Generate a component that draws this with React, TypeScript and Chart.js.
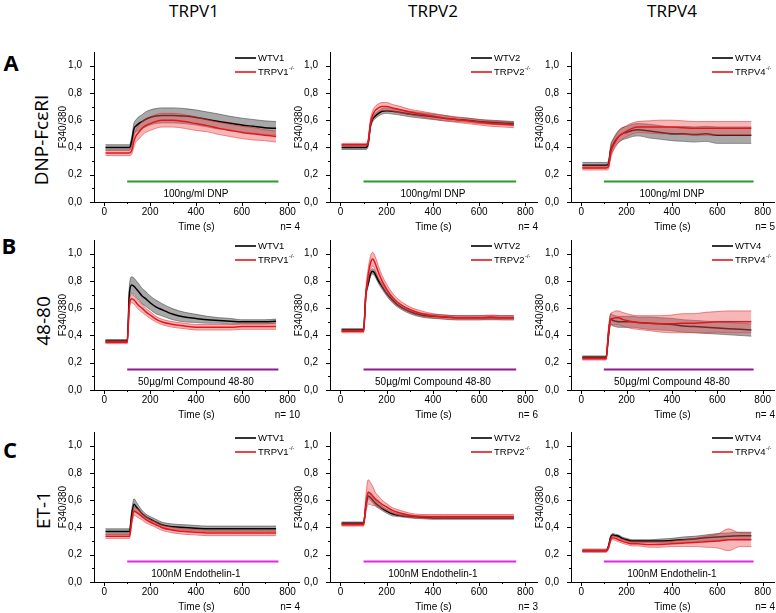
import React, { useEffect, useRef } from 'react';
import { Chart, registerables } from 'chart.js';

Chart.register(...registerables);

// ---------------- data ----------------
const TIME = [5, 50, 100, 110, 120, 130, 140, 150, 165, 180, 200, 225, 250, 300, 350, 400, 450, 500, 550, 600, 650, 700, 750];

// DNP-FcεRI
const dnpV1Wt = [0.40,0.40,0.40,0.40,0.45,0.54,0.56,0.575,0.59,0.605,0.62,0.63,0.635,0.635,0.63,0.62,0.605,0.59,0.578,0.565,0.555,0.545,0.54];
const dnpV1WtErr = [0.02,0.02,0.02,0.02,0.03,0.04,0.045,0.05,0.05,0.055,0.055,0.055,0.055,0.055,0.055,0.055,0.055,0.055,0.05,0.05,0.05,0.05,0.05];
const dnpV1Ko = [0.36,0.36,0.36,0.36,0.38,0.45,0.49,0.51,0.54,0.56,0.575,0.59,0.60,0.60,0.59,0.575,0.56,0.54,0.525,0.51,0.50,0.49,0.48];
const dnpV1KoErr = [0.02,0.02,0.02,0.02,0.03,0.04,0.045,0.05,0.05,0.05,0.05,0.05,0.05,0.05,0.05,0.05,0.045,0.045,0.045,0.045,0.045,0.04,0.04];

const dnpV2Wt = [0.40,0.40,0.40,0.40,0.43,0.56,0.61,0.63,0.65,0.665,0.67,0.665,0.66,0.645,0.635,0.625,0.615,0.605,0.60,0.59,0.585,0.58,0.575];
const dnpV2WtErr = [0.015,0.015,0.015,0.015,0.02,0.02,0.02,0.02,0.02,0.02,0.02,0.02,0.02,0.02,0.02,0.02,0.02,0.015,0.015,0.015,0.015,0.015,0.015];
const dnpV2Ko = [0.42,0.42,0.42,0.42,0.44,0.58,0.64,0.67,0.69,0.70,0.70,0.69,0.68,0.66,0.645,0.63,0.615,0.605,0.595,0.585,0.575,0.57,0.565];
const dnpV2KoErr = [0.01,0.01,0.01,0.01,0.02,0.03,0.03,0.03,0.03,0.03,0.03,0.025,0.025,0.02,0.02,0.02,0.02,0.02,0.02,0.02,0.02,0.02,0.02];

const dnpV4Wt = [0.27,0.27,0.27,0.27,0.28,0.38,0.42,0.45,0.48,0.50,0.51,0.525,0.53,0.52,0.51,0.50,0.50,0.495,0.50,0.49,0.49,0.49,0.49];
const dnpV4WtErr = [0.02,0.02,0.02,0.02,0.02,0.04,0.04,0.04,0.045,0.045,0.045,0.045,0.045,0.05,0.05,0.05,0.055,0.055,0.055,0.06,0.06,0.06,0.06];
const dnpV4Ko = [0.25,0.25,0.25,0.25,0.26,0.36,0.41,0.44,0.48,0.50,0.52,0.54,0.55,0.55,0.55,0.55,0.545,0.54,0.54,0.54,0.54,0.54,0.54];
const dnpV4KoErr = [0.015,0.015,0.015,0.015,0.02,0.04,0.04,0.04,0.04,0.04,0.04,0.04,0.04,0.045,0.05,0.05,0.05,0.05,0.05,0.05,0.05,0.05,0.05];

// Compound 48-80
const c48V1Wt = [0.36,0.36,0.36,0.72,0.77,0.76,0.74,0.72,0.69,0.67,0.64,0.61,0.59,0.555,0.535,0.525,0.515,0.51,0.505,0.50,0.50,0.50,0.505];
const c48V1WtErr = [0.01,0.01,0.01,0.05,0.06,0.06,0.06,0.06,0.055,0.055,0.05,0.05,0.045,0.04,0.035,0.03,0.025,0.02,0.02,0.015,0.015,0.015,0.015];
const c48V1Ko = [0.35,0.35,0.35,0.63,0.67,0.66,0.64,0.62,0.60,0.575,0.55,0.52,0.50,0.48,0.47,0.46,0.46,0.46,0.46,0.465,0.465,0.465,0.465];
const c48V1KoErr = [0.01,0.01,0.01,0.03,0.03,0.03,0.03,0.03,0.03,0.025,0.025,0.02,0.02,0.02,0.02,0.02,0.02,0.02,0.02,0.02,0.02,0.02,0.02];

const c48V2Wt = [0.44,0.44,0.44,0.70,0.78,0.85,0.87,0.85,0.80,0.76,0.71,0.66,0.62,0.575,0.55,0.54,0.535,0.53,0.53,0.53,0.53,0.53,0.53];
const c48V2WtErr = [0.01,0.01,0.01,0.02,0.02,0.02,0.02,0.02,0.02,0.02,0.02,0.02,0.015,0.015,0.015,0.015,0.015,0.015,0.015,0.015,0.015,0.015,0.015];
const c48V2Ko = [0.43,0.43,0.43,0.70,0.84,0.93,0.96,0.93,0.86,0.80,0.74,0.68,0.64,0.59,0.56,0.545,0.535,0.53,0.53,0.53,0.535,0.53,0.53];
const c48V2KoErr = [0.01,0.01,0.01,0.04,0.05,0.05,0.05,0.05,0.045,0.04,0.035,0.03,0.025,0.02,0.02,0.015,0.015,0.015,0.015,0.015,0.015,0.015,0.015];

const c48V4Wt = [0.24,0.24,0.24,0.24,0.40,0.52,0.51,0.505,0.50,0.50,0.50,0.50,0.495,0.49,0.485,0.48,0.47,0.465,0.46,0.455,0.45,0.445,0.44];
const c48V4WtErr = [0.01,0.01,0.01,0.01,0.03,0.04,0.04,0.04,0.04,0.04,0.04,0.04,0.04,0.045,0.045,0.045,0.045,0.045,0.045,0.045,0.045,0.045,0.045];
const c48V4Ko = [0.23,0.23,0.23,0.23,0.42,0.52,0.525,0.53,0.53,0.52,0.51,0.50,0.495,0.49,0.485,0.485,0.49,0.49,0.495,0.50,0.50,0.50,0.50];
const c48V4KoErr = [0.01,0.01,0.01,0.01,0.03,0.04,0.045,0.05,0.05,0.05,0.05,0.05,0.05,0.055,0.06,0.065,0.07,0.07,0.075,0.075,0.08,0.08,0.08];

// Endothelin-1
const et1V1Wt = [0.37,0.37,0.37,0.37,0.50,0.57,0.55,0.53,0.50,0.48,0.46,0.44,0.42,0.405,0.40,0.395,0.39,0.39,0.39,0.39,0.39,0.39,0.39];
const et1V1WtErr = [0.02,0.02,0.02,0.02,0.03,0.04,0.035,0.03,0.025,0.02,0.02,0.02,0.02,0.02,0.02,0.02,0.02,0.02,0.02,0.02,0.02,0.02,0.02];
const et1V1Ko = [0.335,0.335,0.335,0.335,0.45,0.52,0.51,0.50,0.48,0.46,0.44,0.42,0.40,0.38,0.37,0.365,0.36,0.36,0.36,0.36,0.36,0.36,0.36];
const et1V1KoErr = [0.015,0.015,0.015,0.015,0.025,0.03,0.03,0.03,0.025,0.025,0.02,0.02,0.02,0.02,0.02,0.02,0.02,0.02,0.02,0.02,0.02,0.02,0.02];

const et1V2Wt = [0.43,0.43,0.43,0.55,0.63,0.62,0.60,0.58,0.56,0.54,0.52,0.50,0.49,0.48,0.475,0.47,0.47,0.47,0.47,0.47,0.47,0.47,0.47];
const et1V2WtErr = [0.01,0.01,0.01,0.015,0.02,0.02,0.02,0.02,0.02,0.015,0.015,0.015,0.01,0.01,0.01,0.01,0.01,0.01,0.01,0.01,0.01,0.01,0.01];
const et1V2Ko = [0.42,0.42,0.42,0.57,0.66,0.65,0.63,0.61,0.59,0.57,0.55,0.525,0.51,0.49,0.48,0.48,0.48,0.48,0.48,0.48,0.48,0.48,0.48];
const et1V2KoErr = [0.01,0.01,0.01,0.06,0.09,0.08,0.07,0.05,0.04,0.03,0.025,0.02,0.02,0.015,0.015,0.015,0.015,0.015,0.015,0.015,0.015,0.015,0.015];

const et1V4Wt = [0.23,0.23,0.23,0.23,0.26,0.33,0.345,0.34,0.335,0.32,0.31,0.30,0.30,0.30,0.30,0.305,0.31,0.315,0.325,0.33,0.335,0.34,0.34];
const et1V4WtErr = [0.01,0.01,0.01,0.01,0.01,0.01,0.01,0.01,0.01,0.01,0.01,0.01,0.01,0.01,0.015,0.015,0.02,0.02,0.02,0.025,0.025,0.025,0.025];
const et1V4Ko = [0.23,0.23,0.23,0.23,0.25,0.31,0.325,0.32,0.31,0.30,0.29,0.28,0.28,0.275,0.275,0.28,0.285,0.29,0.295,0.30,0.31,0.31,0.31];
const et1V4KoErr = [0.01,0.01,0.01,0.01,0.01,0.015,0.015,0.015,0.015,0.015,0.015,0.015,0.015,0.02,0.02,0.02,0.025,0.03,0.04,0.05,0.08,0.05,0.05];

// labels
const COLUMN_TITLES = ['TRPV1', 'TRPV2', 'TRPV4'];
const ROW_LETTERS = ['A', 'B', 'C'];
const ROW_LABELS = ['DNP-FcεRI', '48-80', 'ET-1'];
const WT_LABELS = ['WTV1', 'WTV2', 'WTV4'];
const KO_LABELS = ['TRPV1', 'TRPV2', 'TRPV4'];
const KO_SUFFIX = '-/-';
const STIM_LABELS = ['100ng/ml DNP', '50µg/ml Compound 48-80', '100nM Endothelin-1'];
const N_LABELS = [['n= 4', 'n= 4', 'n= 5'], ['n= 10', 'n= 6', 'n= 4'], ['n= 4', 'n= 3', 'n= 4']];
const X_TITLE = 'Time (s)';
const Y_TITLE = 'F340/380';

// axes
const X_MAJOR = [0, 200, 400, 600, 800];
const X_MINOR = [100, 300, 500, 700];
const Y_MAJOR = [0, 0.2, 0.4, 0.6, 0.8, 1.0];
const Y_MINOR = [0.1, 0.3, 0.5, 0.7, 0.9];
const X_MIN = -45, X_MAX = 850, Y_MIN = 0, Y_MAX = 1.1;

// stimulus bars
const STIM_START = 100, STIM_END = 760, STIM_LEVEL = 0.15;
const STIM_TEXT_X = 400, STIM_TEXT_Y = 0.055;

const SERIES = [
  [[dnpV1Wt, dnpV1WtErr, dnpV1Ko, dnpV1KoErr], [dnpV2Wt, dnpV2WtErr, dnpV2Ko, dnpV2KoErr], [dnpV4Wt, dnpV4WtErr, dnpV4Ko, dnpV4KoErr]],
  [[c48V1Wt, c48V1WtErr, c48V1Ko, c48V1KoErr], [c48V2Wt, c48V2WtErr, c48V2Ko, c48V2KoErr], [c48V4Wt, c48V4WtErr, c48V4Ko, c48V4KoErr]],
  [[et1V1Wt, et1V1WtErr, et1V1Ko, et1V1KoErr], [et1V2Wt, et1V2WtErr, et1V2Ko, et1V2KoErr], [et1V4Wt, et1V4WtErr, et1V4Ko, et1V4KoErr]],
];

// ---------------- layout & style ----------------
const COL_LEFT = [94, 330, 571];
const COL_RIGHT = [299, 537, 774];
const ROW_TOP = [52, 240, 432];
const ROW_BOTTOM = [202, 390, 582];
const Y_BOX = 50, X_BOX = 32, PAD_T = 20, PAD_R = 2;

const STIM_COLORS = ['#2a9a2a', '#8b1a8f', '#e424e4'];
const WT_LINE = '#000000';
const KO_LINE = '#e8141c';
const WT_BAND = 'rgba(110,110,110,0.6)';
const KO_BAND = 'rgba(240,95,95,0.45)';
const WT_EDGE = 'rgba(60,60,60,0.8)';
const KO_EDGE = 'rgba(225,30,35,0.75)';
const CHART_FONT = '"Liberation Sans", Arial, sans-serif';
const TITLE_FONT = '"Open Sans", "Liberation Sans", sans-serif';
const FS = 10;

const pts = (vals: number[]) => TIME.map((t, i) => ({ x: t, y: vals[i] }));
const shift = (m: number[], e: number[], s: number) => m.map((v, i) => v + s * e[i]);

function makeDecor(r: number, c: number) {
  return {
    id: 'decor' + r + c,
    afterDraw(chart: any) {
      const { ctx, chartArea: a, scales } = chart;
      const x = scales.x, y = scales.y;
      ctx.save();
      ctx.strokeStyle = '#000';
      ctx.lineWidth = 1;
      ctx.beginPath();
      const xt = (v: number, len: number) => {
        const px = Math.round(x.getPixelForValue(v)) + 0.5;
        ctx.moveTo(px, a.bottom);
        ctx.lineTo(px, a.bottom + len);
      };
      const yt = (v: number, len: number) => {
        const py = Math.round(y.getPixelForValue(v)) + 0.5;
        ctx.moveTo(a.left, py);
        ctx.lineTo(a.left - len, py);
      };
      X_MAJOR.forEach(v => xt(v, 4));
      X_MINOR.forEach(v => xt(v, 2));
      Y_MAJOR.forEach(v => yt(v, 4));
      Y_MINOR.forEach(v => yt(v, 2));
      ctx.stroke();

      ctx.fillStyle = '#000';
      ctx.font = FS + 'px ' + CHART_FONT;
      ctx.textBaseline = 'middle';
      ctx.textAlign = 'center';
      ctx.fillText(STIM_LABELS[r], x.getPixelForValue(STIM_TEXT_X), y.getPixelForValue(STIM_TEXT_Y));
      ctx.fillText(X_TITLE, (a.left + a.right) / 2, a.bottom + 25);
      ctx.textAlign = 'right';
      ctx.fillText(N_LABELS[r][c], a.right + 1, a.bottom + 25);

      ctx.save();
      ctx.translate(a.left - 31, (a.top + a.bottom) / 2);
      ctx.rotate(-Math.PI / 2);
      ctx.textAlign = 'center';
      ctx.fillText(Y_TITLE, 0, 0);
      ctx.restore();

      // legend
      const lx = a.left + 141;
      const rows = [
        { color: WT_LINE, text: WT_LABELS[c], sup: '' },
        { color: KO_LINE, text: KO_LABELS[c], sup: KO_SUFFIX },
      ];
      rows.forEach((row, i) => {
        const ly = a.top + 6 + i * 14;
        ctx.strokeStyle = row.color;
        ctx.lineWidth = 1.6;
        ctx.beginPath();
        ctx.moveTo(lx, ly);
        ctx.lineTo(lx + 21, ly);
        ctx.stroke();
        ctx.textAlign = 'left';
        ctx.font = '9.5px ' + CHART_FONT;
        ctx.fillText(row.text, lx + 23, ly);
        if (row.sup) {
          const w = ctx.measureText(row.text).width;
          ctx.font = '5.5px ' + CHART_FONT;
          ctx.fillText(row.sup, lx + 23 + w + 0.5, ly - 4);
        }
      });
      ctx.restore();
    },
  };
}

function Panel({ r, c }: { r: number; c: number }) {
  const ref = useRef<HTMLCanvasElement | null>(null);
  const left = COL_LEFT[c] - Y_BOX;
  const top = ROW_TOP[r] - PAD_T;
  const width = COL_RIGHT[c] - COL_LEFT[c] + Y_BOX + PAD_R;
  const height = ROW_BOTTOM[r] - ROW_TOP[r] + PAD_T + X_BOX;

  useEffect(() => {
    const [wt, wtErr, ko, koErr] = SERIES[r][c];
    const line = { pointRadius: 0, cubicInterpolationMode: 'monotone' as const };
    const chart = new Chart(ref.current as HTMLCanvasElement, {
      type: 'line',
      data: {
        datasets: [
          { ...line, data: pts(shift(wt, wtErr, -1)), borderColor: WT_EDGE, borderWidth: 0.7, fill: false, order: 10 },
          { ...line, data: pts(shift(wt, wtErr, 1)), borderColor: WT_EDGE, borderWidth: 0.7, backgroundColor: WT_BAND, fill: '-1', order: 9 },
          { ...line, data: pts(wt), borderColor: WT_LINE, borderWidth: 1.5, fill: false, order: 8 },
          { ...line, data: pts(shift(ko, koErr, -1)), borderColor: KO_EDGE, borderWidth: 0.7, fill: false, order: 7 },
          { ...line, data: pts(shift(ko, koErr, 1)), borderColor: KO_EDGE, borderWidth: 0.7, backgroundColor: KO_BAND, fill: '-1', order: 6 },
          { ...line, data: pts(ko), borderColor: KO_LINE, borderWidth: 1.5, fill: false, order: 5 },
          {
            pointRadius: 0,
            data: [{ x: STIM_START, y: STIM_LEVEL }, { x: STIM_END, y: STIM_LEVEL }],
            borderColor: STIM_COLORS[r], borderWidth: 2, fill: false, order: 1,
          },
        ],
      },
      options: {
        animation: false,
        responsive: false,
        devicePixelRatio: 1,
        events: [],
        layout: { padding: { top: PAD_T, left: 0, right: PAD_R, bottom: 0 } },
        plugins: { legend: { display: false }, tooltip: { enabled: false } },
        scales: {
          x: {
            type: 'linear', min: X_MIN, max: X_MAX,
            afterBuildTicks: (s: any) => { s.ticks = X_MAJOR.map(v => ({ value: v })); },
            afterFit: (s: any) => { s.height = X_BOX; },
            grid: { display: true, drawOnChartArea: false, drawTicks: false },
            border: { display: true, color: '#000', width: 1 },
            ticks: { padding: 4, color: '#000', font: { size: FS, family: CHART_FONT }, maxRotation: 0, autoSkip: false, callback: (v: any) => String(v) },
          },
          y: {
            type: 'linear', min: Y_MIN, max: Y_MAX,
            afterBuildTicks: (s: any) => { s.ticks = Y_MAJOR.map(v => ({ value: v })); },
            afterFit: (s: any) => { s.width = Y_BOX; },
            grid: { display: true, drawOnChartArea: false, drawTicks: false },
            border: { display: true, color: '#000', width: 1 },
            ticks: { padding: 12, color: '#000', font: { size: FS, family: CHART_FONT }, autoSkip: false, callback: (v: any) => Number(v).toFixed(1).replace('.', ',') },
          },
        },
      } as any,
      plugins: [makeDecor(r, c)],
    });
    return () => chart.destroy();
  }, [r, c]);

  return (
    <canvas
      ref={ref}
      width={width}
      height={height}
      style={{ position: 'absolute', left, top, width, height }}
    />
  );
}

const COL_CENTERS = [194, 433, 672];
const LETTER_POS = [[11, 62], [9, 245], [10, 449]];
const ROW_LABEL_POS = [[41, 140], [43, 321], [43, 510]];

export default function App() {
  const rows = [0, 1, 2];
  const cols = [0, 1, 2];
  return (
    <div style={{ position: 'absolute', left: 0, top: 0, width: 776, height: 613, overflow: 'hidden', background: '#fff' }}>
      {COLUMN_TITLES.map((t, i) => (
        <div key={'ct' + i} style={{ position: 'absolute', left: COL_CENTERS[i], top: 10, transform: 'translate(-50%,-50%)', font: '17px ' + TITLE_FONT, whiteSpace: 'nowrap', lineHeight: 1 }}>{t}</div>
      ))}
      {ROW_LETTERS.map((t, i) => (
        <div key={'rl' + i} style={{ position: 'absolute', left: LETTER_POS[i][0], top: LETTER_POS[i][1], transform: 'translate(-50%,-50%)', font: 'bold 22px ' + TITLE_FONT, whiteSpace: 'nowrap', lineHeight: 1 }}>{t}</div>
      ))}
      {ROW_LABELS.map((t, i) => (
        <div key={'rn' + i} style={{ position: 'absolute', left: ROW_LABEL_POS[i][0], top: ROW_LABEL_POS[i][1], transform: 'translate(-50%,-50%) rotate(-90deg)', font: '19px ' + TITLE_FONT, whiteSpace: 'nowrap', lineHeight: 1 }}>{t}</div>
      ))}
      {rows.map(r => cols.map(c => <Panel key={r + '-' + c} r={r} c={c} />))}
    </div>
  );
}
